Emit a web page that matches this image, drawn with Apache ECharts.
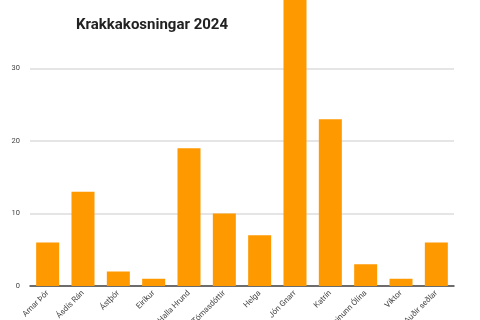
<!DOCTYPE html>
<html><head><meta charset="utf-8">
<script src="https://cdn.jsdelivr.net/npm/echarts@6/dist/echarts.min.js"></script>
<style>html,body{margin:0;padding:0;background:#fff}#c{width:480px;height:320px}</style>
</head><body><div id="c"></div>
<script>
const categories = ["Arnar Þór","Ásdís Rán","Ástþór","Eiríkur","Halla Hrund","Halla Tómasdóttir","Helga","Jón Gnarr","Katrín","Steinunn Ólína","Viktor","Auðir seðlar"];
const votes = [6,13,2,1,19,10,7,40,23,3,1,6];
const yTicks = [0,10,20,30,40];
const chart = echarts.init(document.getElementById('c'));
chart.setOption({
  animation:false,
  title:{text:'Krakkakosningar 2024',left:71,top:13,textStyle:{fontFamily:'Roboto',fontWeight:'bold',fontSize:15,color:'#222'}},
  grid:{left:30,right:26,top:-4,bottom:34,containLabel:false,outerBoundsMode:'none'},
  xAxis:{type:'category',data:categories,
    axisLine:{lineStyle:{color:'#444',width:1.5}},axisTick:{show:false},
    axisLabel:{rotate:45,interval:0,fontSize:8,color:'#444',fontFamily:'Roboto',margin:6}},
  yAxis:{type:'value',min:yTicks[0],max:yTicks[yTicks.length-1],interval:10,
    axisLine:{show:false},axisTick:{show:false},
    axisLabel:{fontSize:7.5,color:'#444',fontFamily:'Roboto',margin:10},
    splitLine:{lineStyle:{color:'#ddd',width:1.5}}},
  series:[{type:'bar',data:votes,barWidth:23,itemStyle:{color:'#ff9900'}}]
});
</script></body></html>
